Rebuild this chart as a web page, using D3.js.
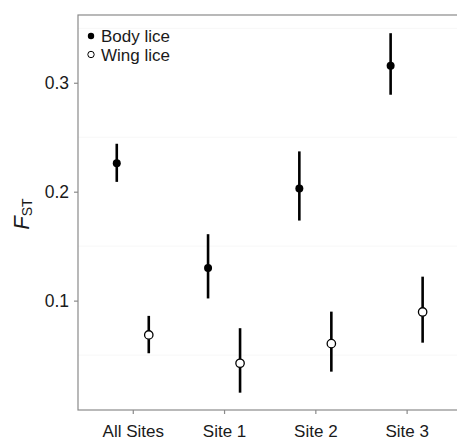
<!DOCTYPE html>
<html>
<head>
<meta charset="utf-8">
<script src="https://cdn.jsdelivr.net/npm/d3@7"></script>
<style>
  body { margin: 0; background: #fff; }
  text { font-family: "Liberation Sans", Arial, sans-serif; fill: #1a1a1a; }
</style>
</head>
<body>
<svg id="chart" width="457" height="440"></svg>
<script>
const sites = ['All Sites', 'Site 1', 'Site 2', 'Site 3'];
const bodyMean = [0.226, 0.130, 0.203, 0.3155];
const bodyLow = [0.209, 0.102, 0.1735, 0.289];
const bodyHigh = [0.244, 0.161, 0.237, 0.3455];
const wingMean = [0.0685, 0.0425, 0.0605, 0.0896];
const wingLow = [0.0517, 0.0155, 0.0348, 0.0614];
const wingHigh = [0.086, 0.0747, 0.0899, 0.122];
const yTicks = [0.1, 0.2, 0.3];
const yMinor = [0.05, 0.15, 0.25, 0.35];

const svg = d3.select('#chart');
const plotLeft = 78, plotRight = 461.4, plotTop = 15, plotBottom = 410;

const x = d3.scalePoint()
  .domain(sites)
  .range([plotLeft, plotRight])
  .padding(0.6);

const y = d3.scaleLinear()
  .domain([-0.0004, 0.3622])
  .range([plotBottom, plotTop]);

const dodge = 16;

// faint minor grid
svg.append('g')
  .selectAll('line')
  .data(yMinor)
  .enter()
  .append('line')
  .attr('x1', plotLeft).attr('x2', plotRight)
  .attr('y1', d => y(d)).attr('y2', d => y(d))
  .attr('stroke', '#f7f7f7')
  .attr('stroke-width', 1);

// panel border
svg.append('rect')
  .attr('x', plotLeft).attr('y', plotTop)
  .attr('width', plotRight - plotLeft).attr('height', plotBottom - plotTop)
  .attr('fill', 'none')
  .attr('stroke', '#8a8a8a')
  .attr('stroke-width', 1.2);

// axes
const yAxis = svg.append('g')
  .attr('transform', `translate(${plotLeft},0)`)
  .call(d3.axisLeft(y).tickValues(yTicks).tickSize(4).tickPadding(5).tickFormat(d3.format('.1f')));
yAxis.select('.domain').remove();
yAxis.selectAll('line').attr('stroke', '#8a8a8a').attr('stroke-width', 1.2);
yAxis.selectAll('text').style('font-size', '17.5px').attr('fill', '#1a1a1a').attr('font-family', '"Liberation Sans", Arial, sans-serif');

const xAxis = svg.append('g')
  .attr('transform', `translate(0,${plotBottom})`)
  .call(d3.axisBottom(x).tickSize(4).tickPadding(11));
xAxis.select('.domain').remove();
xAxis.selectAll('line').attr('stroke', '#8a8a8a').attr('stroke-width', 1.2);
xAxis.selectAll('text').style('font-size', '17px').attr('fill', '#1a1a1a').attr('font-family', '"Liberation Sans", Arial, sans-serif');

// y label F_ST
const yl = svg.append('text')
  .attr('transform', 'translate(29,214) rotate(-90)')
  .attr('text-anchor', 'middle');
yl.append('tspan').attr('font-style', 'italic').style('font-size', '22px').text('F');
yl.append('tspan').style('font-size', '14px').attr('dy', 3).text('ST');

// error bars + points
function drawSeries(mean, low, high, off, filled) {
  const g = svg.append('g');
  g.selectAll('line')
    .data(sites)
    .enter()
    .append('line')
    .attr('x1', d => x(d) + off).attr('x2', d => x(d) + off)
    .attr('y1', (d, i) => y(low[i])).attr('y2', (d, i) => y(high[i]))
    .attr('stroke', '#000')
    .attr('stroke-width', 2.6);
  g.selectAll('circle')
    .data(sites)
    .enter()
    .append('circle')
    .attr('cx', d => x(d) + off)
    .attr('cy', (d, i) => y(mean[i]))
    .attr('r', filled ? 4 : 4.2)
    .attr('fill', filled ? '#000' : '#fff')
    .attr('stroke', '#000')
    .attr('stroke-width', filled ? 0 : 1.3);
}
drawSeries(bodyMean, bodyLow, bodyHigh, -dodge, true);
drawSeries(wingMean, wingLow, wingHigh, dodge, false);

// legend
const legend = [['Body lice', true], ['Wing lice', false]];
const lg = svg.append('g');
lg.selectAll('circle')
  .data(legend)
  .enter()
  .append('circle')
  .attr('cx', 91)
  .attr('cy', (d, i) => 36 + i * 18.5)
  .attr('r', 3.2)
  .attr('fill', d => d[1] ? '#000' : '#fff')
  .attr('stroke', '#000')
  .attr('stroke-width', d => d[1] ? 0 : 1);
lg.selectAll('text')
  .data(legend)
  .enter()
  .append('text')
  .attr('x', 101)
  .attr('y', (d, i) => 42 + i * 18.5)
  .style('font-size', '17px')
  .text(d => d[0]);
</script>
</body>
</html>
